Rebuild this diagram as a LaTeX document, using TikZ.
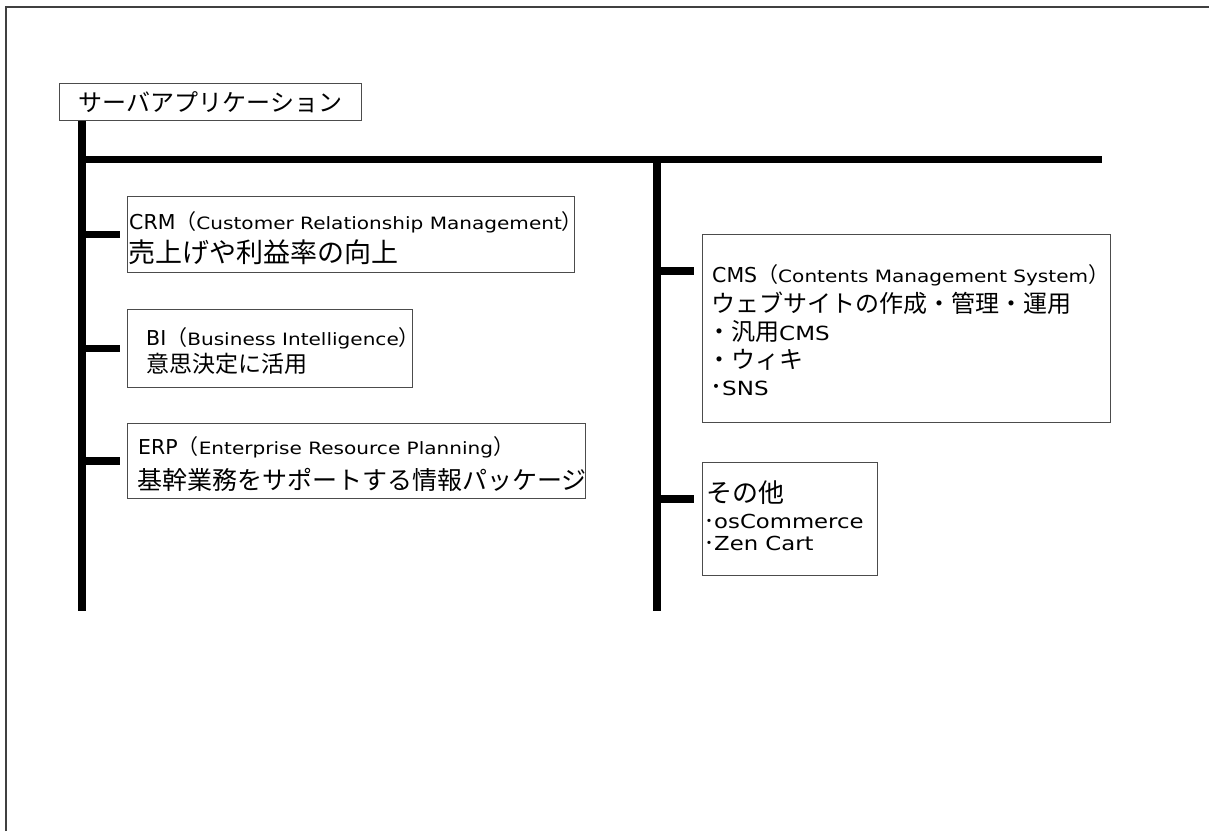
\documentclass[tikz,border=0pt]{standalone}
\usepackage{fontspec}
\setmainfont{Noto Sans CJK JP}
\newfontfamily\lat[FakeStretch=1.18]{DejaVu Sans}
\newfontfamily\latn{DejaVu Sans}
\newcommand{\latin}[2]{{\lat\fontsize{#1}{#1}\selectfont #2}}
\newcommand{\acro}[1]{{\latn\fontsize{20.5}{22}\selectfont #1}}
\begin{document}
\begin{tikzpicture}[x=1pt,y=-1pt,
  bar/.style={line width=7.5pt, black},
  box/.style={draw=black!70, line width=0.9pt, rectangle, inner sep=0pt, anchor=north west},
  ln/.style={inner sep=0pt, anchor=west},
  frame/.style={draw=black!75, line width=1.3pt}]
\useasboundingbox (0,0) rectangle (1209,831);
\draw[frame] (6,831) -- (6,7) -- (1209,7);

% boxes
\node[box, minimum width=302pt, minimum height=37pt, font=\fontsize{24}{28}\selectfont] (title) at (59,83) {サーバアプリケーション};
\node[box, minimum width=447pt, minimum height=76pt] (crm) at (127,196) {};
\node[box, minimum width=285pt, minimum height=78pt] (bi) at (127,309) {};
\node[box, minimum width=458pt, minimum height=75pt] (erp) at (127,423) {};
\node[box, minimum width=408pt, minimum height=188pt] (cms) at (702,234) {};
\node[box, minimum width=175pt, minimum height=113pt] (oth) at (702,462) {};

% text lines
\node[ln, font=\fontsize{21}{24}\selectfont] (crm1) at (129,222) {\acro{CRM}（\latin{17}{Customer Relationship Management}）};
\node[ln, font=\fontsize{27}{30}\selectfont] (crm2) at (128,252) {売上げや利益率の向上};
\node[ln, font=\fontsize{21}{24}\selectfont] (bi1) at (146,338) {\acro{BI}（\latin{17}{Business Intelligence}）};
\node[ln, font=\fontsize{23}{30}\selectfont] (bi2) at (146,364) {意思決定に活用};
\node[ln, font=\fontsize{21}{24}\selectfont] (erp1) at (138,447) {\acro{ERP}（\latin{17}{Enterprise Resource Planning}）};
\node[ln, font=\fontsize{25}{32}\selectfont] (erp2) at (137,480) {基幹業務をサポートする情報パッケージ};
\node[ln, font=\fontsize{21}{24}\selectfont] (cms1) at (712,275) {\acro{CMS}（\latin{17}{Contents Management System}）};
\node[ln, font=\fontsize{24}{28}\selectfont] (cms2) at (711,303) {ウェブサイトの作成・管理・運用};
\node[ln, font=\fontsize{24}{28}\selectfont] (cms3) at (707,332) {・汎用\latin{19.5}{CMS}};
\node[ln, font=\fontsize{24}{28}\selectfont] (cms4) at (707,360) {・ウィキ};
\node[ln, font=\fontsize{24}{28}\selectfont] (cms5) at (710,388) {･\latin{19.5}{SNS}};
\node[ln, font=\fontsize{26}{30}\selectfont] (oth1) at (706,493) {その他};
\node[ln, font=\fontsize{20}{24}\selectfont] (oth2) at (704,521) {･\latin{19.3}{osCommerce}};
\node[ln, font=\fontsize{20}{24}\selectfont] (oth3) at (704,543) {･\latin{19.3}{Zen Cart}};

% trunk coordinates
\coordinate (ltop) at ([xshift=23pt]title.south west);
\coordinate (lbot) at (82,611);
\coordinate (hl) at (78,159.5);
\coordinate (hr) at (1102,159.5);
\coordinate (rtop) at (657,156);
\coordinate (rbot) at (657,611);
\coordinate (cmsj) at (702,271);
\coordinate (othj) at (702,499);

\draw[bar] (ltop) -- (lbot);
\draw[bar] (hl) -- (hr);
\draw[bar] (rtop) -- (rbot);

% branches
\draw[bar] (crm.west -| ltop) -- ([xshift=-7pt]crm.west);
\draw[bar] (bi.west -| ltop) -- ([xshift=-7pt]bi.west);
\draw[bar] (erp.west -| ltop) -- ([xshift=-7pt]erp.west);
\draw[bar] (cmsj -| rtop) -- ([xshift=-8pt]cmsj);
\draw[bar] (othj -| rtop) -- ([xshift=-8pt]othj);
\end{tikzpicture}
\end{document}
